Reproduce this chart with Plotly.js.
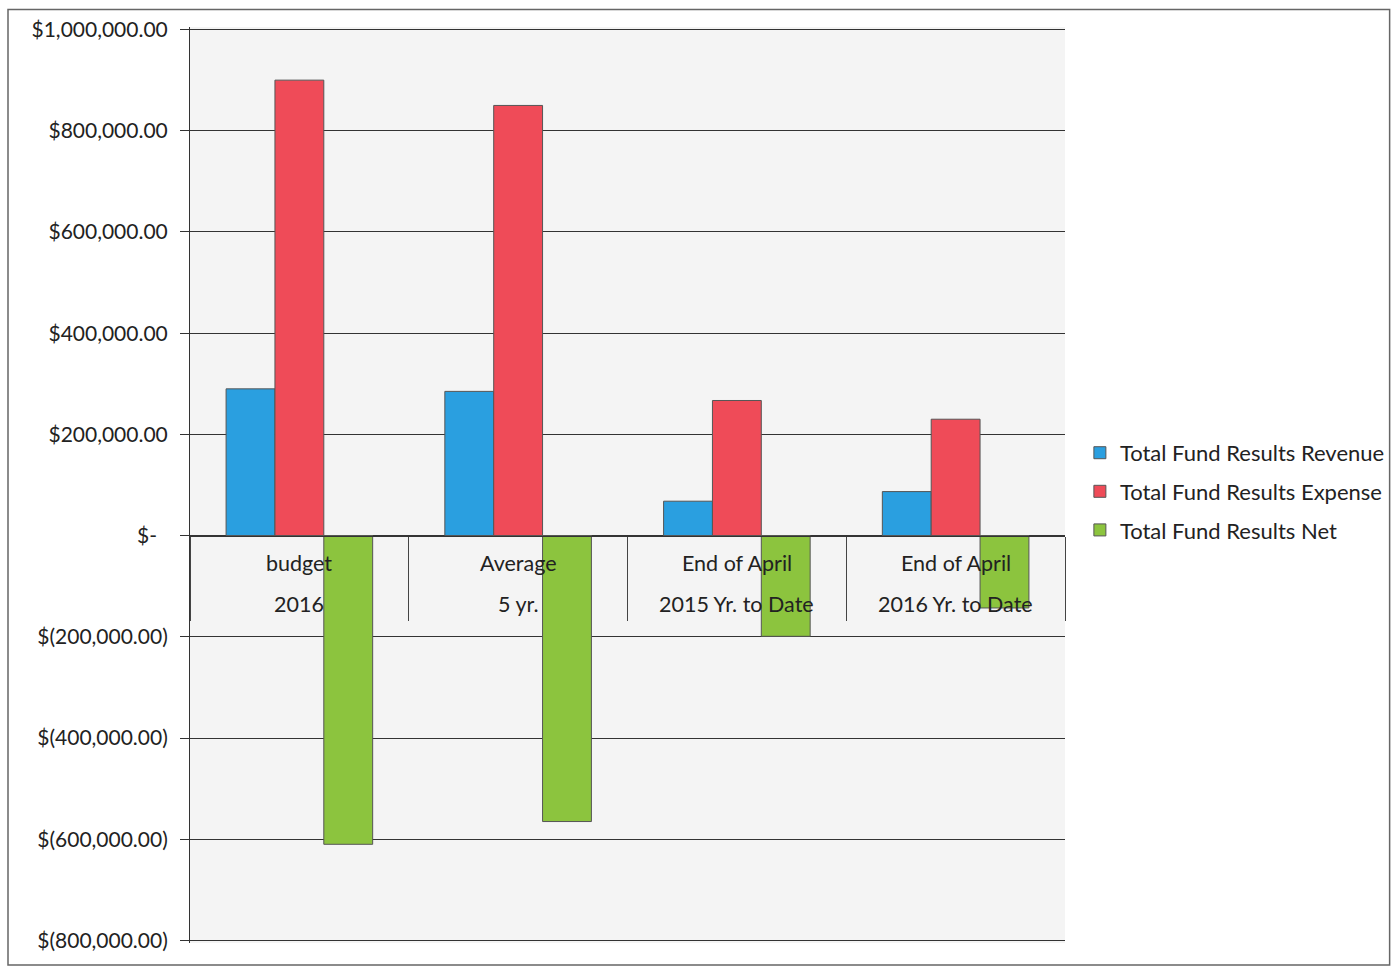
<!DOCTYPE html>
<html>
<head>
<meta charset="utf-8">
<script src="https://cdn.plot.ly/plotly-3.0.1.min.js"></script>
<style>
  html, body { margin: 0; padding: 0; background: #ffffff; }
  #chart { width: 1393px; height: 969px; }
</style>
</head>
<body>
<div id="chart"></div>
<script>
// Category labels (two lines per category)
const catInner = ['budget', 'Average', 'End of April', 'End of April'];
const catOuter = ['2016', '5 yr.', '2015 Yr. to Date', '2016 Yr. to Date'];

// Series values
const revenue = [290000, 285000, 68000, 87000];
const expense = [900000, 850000, 267000, 230000];
const net = [-610000, -565000, -199000, -143000];

const seriesNames = ['Total Fund Results Revenue', 'Total Fund Results Expense', 'Total Fund Results Net'];

// Y tick labels
const yTickVals = [1000000, 800000, 600000, 400000, 200000, 0, -200000, -400000, -600000, -800000];
const yTickText = ['$1,000,000.00', '$800,000.00', '$600,000.00', '$400,000.00', '$200,000.00', '$-\u00a0\u00a0',
                   '$(200,000.00)', '$(400,000.00)', '$(600,000.00)', '$(800,000.00)'];

const colors = ['#2a9fe0', '#ef4b58', '#8cc43e'];
const seriesVals = [revenue, expense, net];

const traces = seriesVals.map((vals, i) => ({
  type: 'bar',
  name: seriesNames[i],
  x: catOuter,
  y: vals,
  marker: { color: colors[i], line: { color: '#555555', width: 1 } },
  legendgroup: 'g' + i
}));

const yMin = -805000, yMax = 1005000;

// two-line category labels placed under the zero-line axis (x = category index)
const catAnnotations = [];
catOuter.forEach((c, i) => {
  catAnnotations.push({ x: i, y: 0, xref: 'x', yref: 'y', text: catInner[i], showarrow: false,
    xanchor: 'center', yanchor: 'middle', yshift: -27, font: { size: 21.5, color: '#222222' } });
  catAnnotations.push({ x: i, y: 0, xref: 'x', yref: 'y', text: catOuter[i], showarrow: false,
    xanchor: 'center', yanchor: 'middle', yshift: -68, font: { size: 21.5, color: '#222222' } });
});

const layout = {
  width: 1393,
  height: 969,
  margin: { l: 190, r: 328, t: 27, b: 26, autoexpand: false },
  paper_bgcolor: '#ffffff',
  plot_bgcolor: '#f4f4f4',
  font: { family: 'Lato, "Open Sans", sans-serif', color: '#222222', size: 20 },
  barmode: 'group',
  bargap: 0.33,
  bargroupgap: 0,
  showlegend: true,
  legend: {
    x: 1.017, xanchor: 'left',
    y: 0.493, yanchor: 'middle',
    font: { size: 22, color: '#222222' },
    traceorder: 'grouped',
    tracegroupgap: 7,
    bgcolor: 'rgba(0,0,0,0)'
  },
  xaxis: {
    type: 'category',
    categoryorder: 'array',
    categoryarray: catOuter,
    range: [-0.5, catOuter.length - 0.5],
    anchor: 'free',
    position: (0 - yMin) / (yMax - yMin),
    showline: true,
    linecolor: '#333333',
    linewidth: 1,
    showgrid: false,
    showticklabels: false,
    ticks: 'outside',
    tickson: 'boundaries',
    ticklen: 84,
    tickcolor: '#444444',
    tickwidth: 1,
    zeroline: false
  },
  yaxis: {
    range: [yMin, yMax],
    tickvals: yTickVals,
    ticktext: yTickText,
    showline: true,
    linecolor: '#333333',
    linewidth: 1,
    showgrid: true,
    gridcolor: '#333333',
    gridwidth: 1,
    zeroline: false,
    ticks: 'outside',
    ticklen: 9,
    tickcolor: '#333333',
    ticklabelstandoff: 8,
    tickfont: { size: 21, color: '#222222' }
  },
  annotations: catAnnotations,
  shapes: [
    { type: 'rect', xref: 'paper', yref: 'paper',
      x0: -0.208, x1: 1.371, y0: -0.024, y1: 1.019,
      line: { color: '#666666', width: 1.5 }, fillcolor: 'rgba(0,0,0,0)', layer: 'below' }
  ]
};

Plotly.newPlot('chart', traces, layout, { displayModeBar: false, staticPlot: true });
</script>
</body>
</html>
